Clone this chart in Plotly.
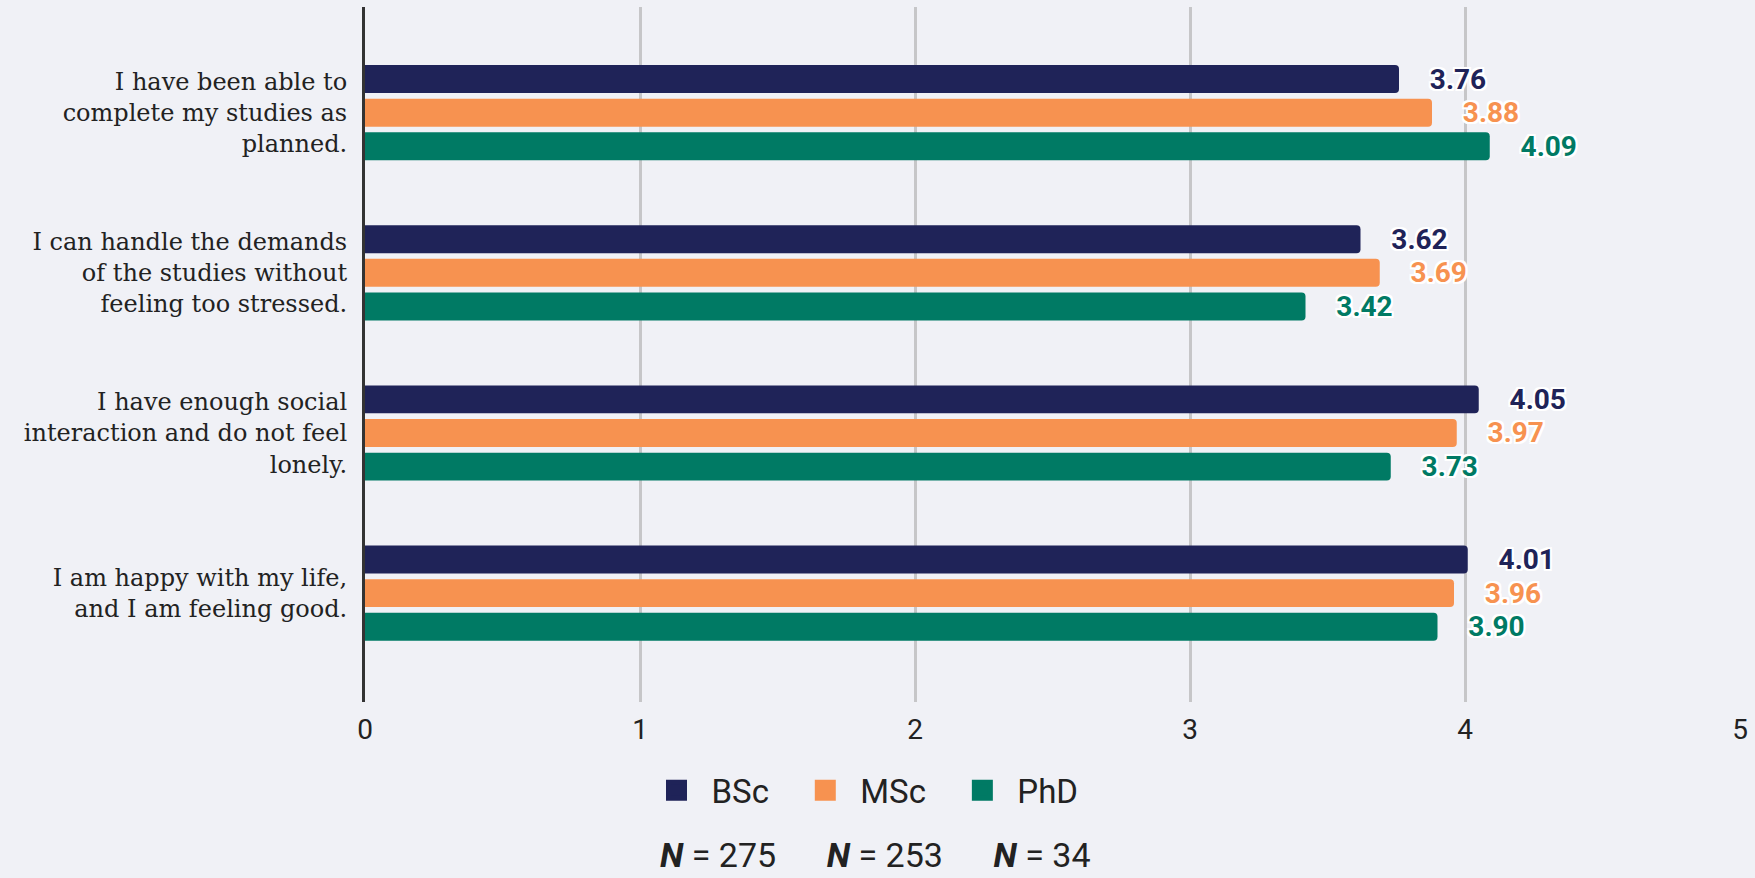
import plotly.graph_objects as go

# survey statements (y categories) and mean scores per degree level
statements = [
    "I have been able to<br>complete my studies as<br>planned.",
    "I can handle the demands<br>of the studies without<br>feeling too stressed.",
    "I have enough social<br>interaction and do not feel<br>lonely.",
    "I am happy with my life,<br>and I am feeling good.",
]
bsc = [3.76, 3.62, 4.05, 4.01]
msc = [3.88, 3.69, 3.97, 3.96]
phd = [4.09, 3.42, 3.73, 3.90]

groups = ["BSc", "MSc", "PhD"]
n_sizes = [275, 253, 34]
colors = ["#1f2358", "#f79250", "#007a64"]
x_ticks = [0, 1, 2, 3, 4, 5]

bg = "#f0f1f6"
nb = "\u00a0"

outline = ", ".join(
    f"{dx}px {dy}px 0 #ffffff"
    for dx, dy in [(-2, -2), (2, -2), (-2, 2), (2, 2), (0, 2), (2, 0), (-2, 0), (0, -2)]
)

fig = go.Figure()

for name, vals, col in zip(groups, [bsc, msc, phd], colors):
    fig.add_trace(
        go.Bar(
            y=statements,
            x=vals,
            orientation="h",
            name=name,
            marker=dict(color=col, line=dict(width=0)),
            text=vals,
            texttemplate=nb * 4 + "%{x:.2f}",
            textposition="outside",
            constraintext="none",
            textangle=0,
            cliponaxis=False,
            textfont=dict(family="Roboto", size=28, color=col, weight="bold", shadow=outline),
            showlegend=False,
            hoverinfo="skip",
        )
    )
    # legend entry with a larger square swatch
    fig.add_trace(
        go.Scatter(
            x=[None],
            y=[None],
            mode="markers",
            name=name + nb * 2,
            marker=dict(symbol="square", size=16, color=col, line=dict(color=col, width=5)),
            showlegend=True,
        )
    )

n_text = (nb * 6).join(f"<b><i>N</i></b> = {n}" for n in n_sizes)

fig.update_layout(
    width=1755,
    height=878,
    barmode="group",
    bargap=0.37,
    bargroupgap=0.17,
    barcornerradius=4,
    paper_bgcolor=bg,
    plot_bgcolor=bg,
    margin=dict(l=365, r=11, t=7, b=176),
    font=dict(family="Roboto", color="#222222"),
    xaxis=dict(
        range=[0, 5],
        tickvals=x_ticks,
        showgrid=True,
        gridcolor="#c6c6c8",
        gridwidth=3,
        zeroline=False,
        tickfont=dict(size=28, color="#222222"),
        ticklabelstandoff=8,
    ),
    yaxis=dict(
        range=[3.68, -0.66],
        showgrid=False,
        showline=True,
        linecolor="#333333",
        linewidth=3,
        tickfont=dict(family="DejaVu Serif", size=24, color="#222222"),
        ticklabelstandoff=10,
    ),
    legend=dict(
        orientation="h",
        xref="container",
        yref="container",
        x=0.496,
        xanchor="center",
        y=0.1,
        yanchor="middle",
        font=dict(size=33, color="#222222"),
        itemwidth=60,
        bgcolor="rgba(0,0,0,0)",
    ),
    annotations=[
        dict(
            text=n_text,
            xref="paper",
            yref="paper",
            x=0.371,
            y=-0.2525,
            xanchor="center",
            yanchor="bottom",
            showarrow=False,
            font=dict(size=34, color="#222222"),
        )
    ],
)

fig.write_html(
    "out.html",
    config={"displayModeBar": False},
    post_script=f"document.body.style.margin='0';document.body.style.background='{bg}';",
)
